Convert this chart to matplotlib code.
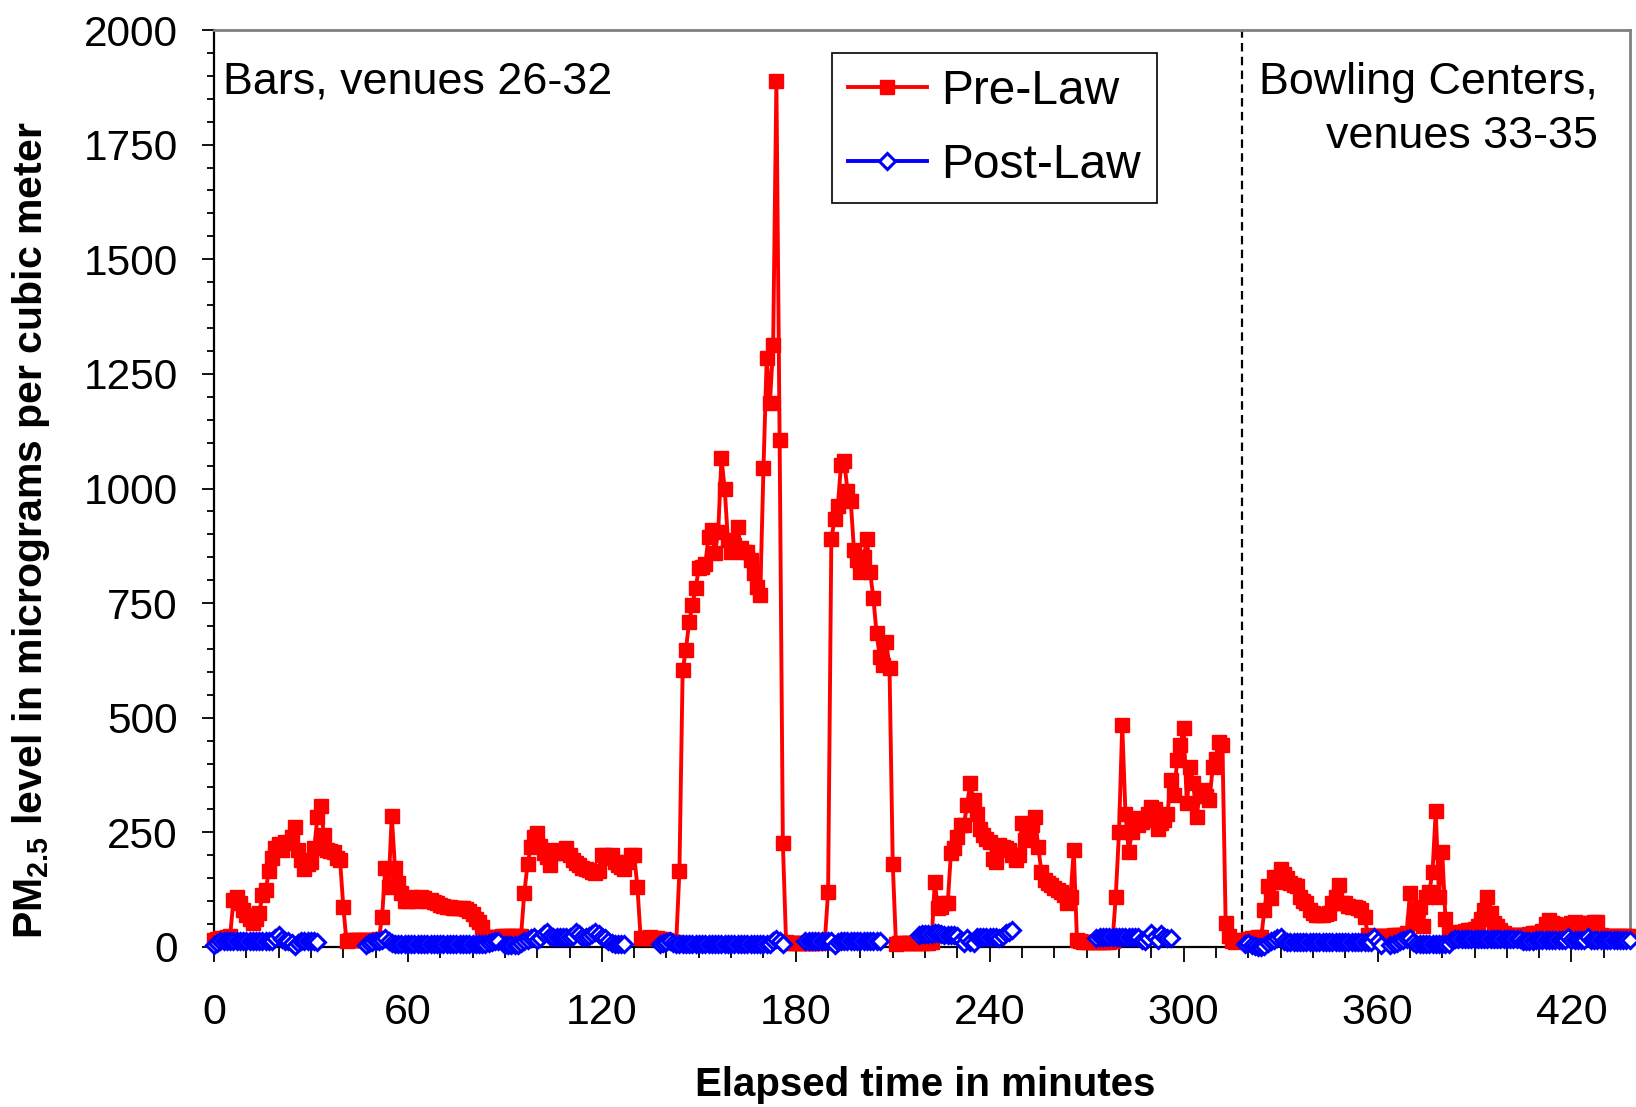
import matplotlib
matplotlib.use('Agg')
import numpy as np
import matplotlib.pyplot as plt
from matplotlib.ticker import MultipleLocator

plt.rcParams['font.family'] = ['Liberation Sans', 'DejaVu Sans']
plt.rcParams['mathtext.default'] = 'regular'

# PM2.5 readings, one per minute
# pre-law visits: start minute of each venue and its readings
pre_starts = [0, 48, 93, 140, 184, 217, 273, 319, 364, 402]
pre_bar_26 = [15, 18, 20, 20, 22, 25, 102, 110, 95, 80, 70, 60, 52, 62, 74, 114,
              125, 165, 194, 215, 225, 211, 230, 226, 240, 262, 211, 190, 171, 182,
              185, 215, 284, 308, 244, 211, 210, 207, 195, 190, 88, 12, 15, 15, 15,
              15, 15, 15]
pre_bar_27 = [15, 15, 15, 18, 66, 172, 130, 286, 172, 140, 117, 100, 100, 108, 105,
              100, 108, 106, 100, 102, 98, 96, 92, 90, 88, 88, 86, 85, 85, 84, 82,
              78, 72, 62, 55, 44, 20, 20, 22, 22, 22, 24, 25, 25, 25]
pre_bar_28 = [25, 25, 25, 118, 180, 218, 240, 248, 220, 205, 196, 179, 212, 205,
              210, 205, 216, 200, 190, 183, 178, 172, 170, 168, 164, 162, 165, 200,
              200, 195, 200, 185, 178, 175, 170, 185, 200, 200, 131, 20, 20, 20, 22,
              20, 20, 18, 18]
pre_bar_29 = [15, 12, 10, 10, 165, 604, 648, 709, 746, 782, 826, 828, 835, 895, 909,
              859, 906, 1066, 1000, 888, 862, 877, 917, 870, 862, 862, 844, 815, 786,
              768, 1044, 1284, 1186, 1313, 1889, 1106, 227, 10, 8, 8, 8, 8, 8, 8]
pre_bar_30 = [8, 8, 8, 8, 10, 15, 120, 889, 934, 961, 1052, 1059, 995, 973, 866, 843,
              818, 850, 889, 818, 761, 684, 632, 615, 666, 609, 181, 6, 8, 8, 8, 8, 8]
pre_bar_31 = [8, 8, 8, 8, 8, 10, 142, 84, 88, 95, 95, 205, 215, 240, 266, 266, 310,
              357, 320, 291, 258, 244, 235, 230, 193, 186, 222, 219, 215, 211, 200,
              190, 201, 270, 234, 250, 265, 284, 219, 164, 146, 140, 135, 128, 124,
              120, 113, 95, 110, 211, 15, 12, 10, 10, 10, 10]
pre_bar_32 = [10, 10, 10, 10, 10, 12, 110, 251, 484, 291, 208, 250, 281, 266, 272,
              277, 290, 306, 302, 258, 270, 277, 291, 364, 331, 407, 440, 477, 313,
              393, 357, 284, 335, 342, 330, 320, 393, 411, 448, 441, 52, 23, 12, 10,
              12, 15]
pre_bowl_33 = [15, 18, 20, 20, 22, 22, 81, 132, 106, 153, 142, 171, 160, 150, 139,
               135, 132, 110, 100, 95, 81, 75, 70, 70, 70, 72, 74, 95, 110, 135, 95,
               95, 90, 88, 88, 85, 81, 66, 26, 25, 25, 25, 25, 25, 25]
pre_bowl_34 = [25, 26, 26, 26, 26, 30, 117, 52, 78, 88, 45, 110, 120, 164, 297, 110,
               208, 62, 33, 30, 30, 30, 32, 35, 36, 38, 40, 45, 60, 80, 110, 74, 52,
               45, 38, 30, 26, 26]
pre_bowl_35 = [26, 26, 26, 26, 26, 28, 30, 30, 30, 35, 50, 59, 52, 50, 48, 45, 45,
               48, 52, 55, 52, 50, 50, 52, 52, 55, 55, 26, 25, 25, 25, 25, 25, 25, 25,
               25, 25]

# post-law visits (gaps between venues are left open)
post_starts = [0, 47, 90, 138, 183, 218, 273, 319, 364, 406]
post_bar_26 = [5, 9, 12, 12, 12, 12, 12, 12, 12, 12, 12, 12, 12, 12, 12, 12, 12, 12,
               14, 20, 26, 18, 12, 12, 8, 3, 8, 12, 12, 12, 12, 12, 10]
post_bar_27 = [4, 8, 10, 12, 14, 16, 19, 12, 8, 7, 7, 7, 7, 7, 7, 7, 7, 7, 7, 7, 7,
               7, 7, 7, 7, 7, 7, 7, 7, 7, 7, 7, 7, 7, 7, 7, 7, 6, 9, 11, 12, 12]
post_bar_28 = [5, 5, 5, 5, 5, 8, 12, 15, 20, 22, 15, 20, 28, 33, 25, 22, 22, 22, 22,
               22, 22, 25, 33, 28, 22, 22, 25, 28, 33, 28, 22, 19, 12, 8, 6, 6, 6, 6]
post_bar_29 = [6, 8, 10, 12, 9, 7, 7, 7, 7, 7, 7, 7, 7, 7, 7, 7, 7, 7, 7, 7, 7, 7, 7,
               7, 7, 7, 7, 7, 7, 7, 7, 7, 7, 7, 7, 12, 18, 12, 6]
post_bar_30 = [12, 13, 13, 13, 13, 13, 13, 13, 13, 4, 10, 13, 13, 13, 13, 13, 13, 13,
               13, 13, 13, 13, 13, 12]
post_bar_31 = [26, 28, 28, 28, 28, 30, 30, 28, 26, 26, 26, 26, 24, 15, 8, 19, 10, 8,
               22, 22, 22, 22, 22, 22, 22, 19, 25, 30, 33, 37]
post_bar_32 = [20, 22, 22, 22, 22, 22, 22, 22, 22, 22, 22, 22, 22, 22, 15, 12, 20, 30,
               22, 15, 28, 22, 19, 19]
post_bowl_33 = [7, 8, 5, 3, 0, 0, 3, 8, 12, 15, 20, 22, 12, 10, 10, 10, 10, 10, 10,
                10, 10, 10, 10, 10, 10, 10, 10, 10, 10, 10, 10, 10, 10, 10, 10, 10,
                10, 10, 10, 10, 22, 12, 4]
post_bowl_34 = [5, 6, 8, 12, 15, 18, 19, 10, 6, 6, 6, 6, 6, 6, 6, 6, 6, 6, 6, 15, 18,
                18, 18, 18, 18, 18, 18, 18, 18, 18, 18, 18, 18, 18, 18, 18, 18, 18,
                18, 18, 18, 12]
post_bowl_35 = [12, 13, 14, 15, 15, 15, 15, 15, 15, 15, 15, 15, 15, 22, 15, 15, 15,
                15, 15, 22, 15, 15, 15, 15, 15, 15, 15, 15, 15, 15, 15, 15, 15]

pre_venues = [pre_bar_26, pre_bar_27, pre_bar_28, pre_bar_29, pre_bar_30,
              pre_bar_31, pre_bar_32, pre_bowl_33, pre_bowl_34, pre_bowl_35]
post_venues = [post_bar_26, post_bar_27, post_bar_28, post_bar_29, post_bar_30,
               post_bar_31, post_bar_32, post_bowl_33, post_bowl_34, post_bowl_35]


def join(starts, venues, gaps):
    xs, ys = [], []
    for s, v in zip(starts, venues):
        xs += list(range(s, s + len(v)))
        ys += v
        if gaps:
            xs.append(np.nan)
            ys.append(np.nan)
    return np.array(xs, float), np.array(ys, float)


pre_x, pre_y = join(pre_starts, pre_venues, False)
post_x, post_y = join(post_starts, post_venues, True)

W, H = 1636, 1107
fig = plt.figure(figsize=(W / 100, H / 100), dpi=100)
ax = fig.add_axes([214 / W, 160 / H, 1416 / W, 917 / H])

ax.plot(pre_x, pre_y, color='#FF0000', lw=2.8, marker='s', ms=9.5, mfc='#FF0000',
        mec='#FF0000', mew=1, label='Pre-Law', clip_on=False, zorder=3)
ax.plot(post_x, post_y, color='#0000FF', lw=2.8, marker='D', ms=8, mfc='white',
        mec='#0000FF', mew=2.2, label='Post-Law', clip_on=False, zorder=4)

# boundary between bars and bowling centers
ax.axvline(318, color='black', lw=1.6, ls=(0, (3.8, 2.4)), zorder=2)

ax.set_xlim(0, 438.1)
ax.set_ylim(0, 2000)
ax.xaxis.set_major_locator(MultipleLocator(60))
ax.xaxis.set_minor_locator(MultipleLocator(10))
ax.yaxis.set_major_locator(MultipleLocator(250))
ax.yaxis.set_minor_locator(MultipleLocator(50))
ax.tick_params(axis='x', which='major', direction='out', length=11, width=1.3,
               pad=22, labelsize=31)
ax.tick_params(axis='x', which='minor', direction='out', length=8, width=1.3)
ax.tick_params(axis='y', which='major', direction='out', length=9, width=1.3,
               pad=17, labelsize=30.5)
ax.tick_params(axis='y', which='minor', direction='out', length=5, width=1.3)

for side in ['left', 'bottom']:
    ax.spines[side].set_color('black')
    ax.spines[side].set_linewidth(1.6)
for side in ['top', 'right']:
    ax.spines[side].set_color('#808080')
    ax.spines[side].set_linewidth(2)

leg = ax.legend(loc='upper left', bbox_to_anchor=(832 / W, 1 - 53 / H),
                bbox_transform=fig.transFigure, fontsize=34.5, frameon=True,
                fancybox=False, edgecolor='black', framealpha=1, borderpad=0.33,
                handlelength=1.65, handletextpad=0.3, labelspacing=0.6,
                numpoints=1, borderaxespad=0)
leg.get_frame().set_linewidth(1.2)

fig.text(223 / W, 1 - 94 / H, 'Bars, venues 26-32', fontsize=32.3, ha='left',
         va='baseline')
fig.text(1598 / W, 1 - 94 / H, 'Bowling Centers,', fontsize=32.3, ha='right',
         va='baseline')
fig.text(1598 / W, 1 - 148 / H, 'venues 33-35', fontsize=32.3, ha='right',
         va='baseline')

fig.text(31 / W, 1 - 530 / H, r'PM$_{2.5}$ level in micrograms per cubic meter',
         fontsize=29.5, fontweight='bold', rotation=90, ha='center', va='center')
fig.text(925 / W, 1 - 1096 / H, 'Elapsed time in minutes', fontsize=29,
         fontweight='bold', ha='center', va='baseline')

fig.savefig('out.png', dpi=100)
